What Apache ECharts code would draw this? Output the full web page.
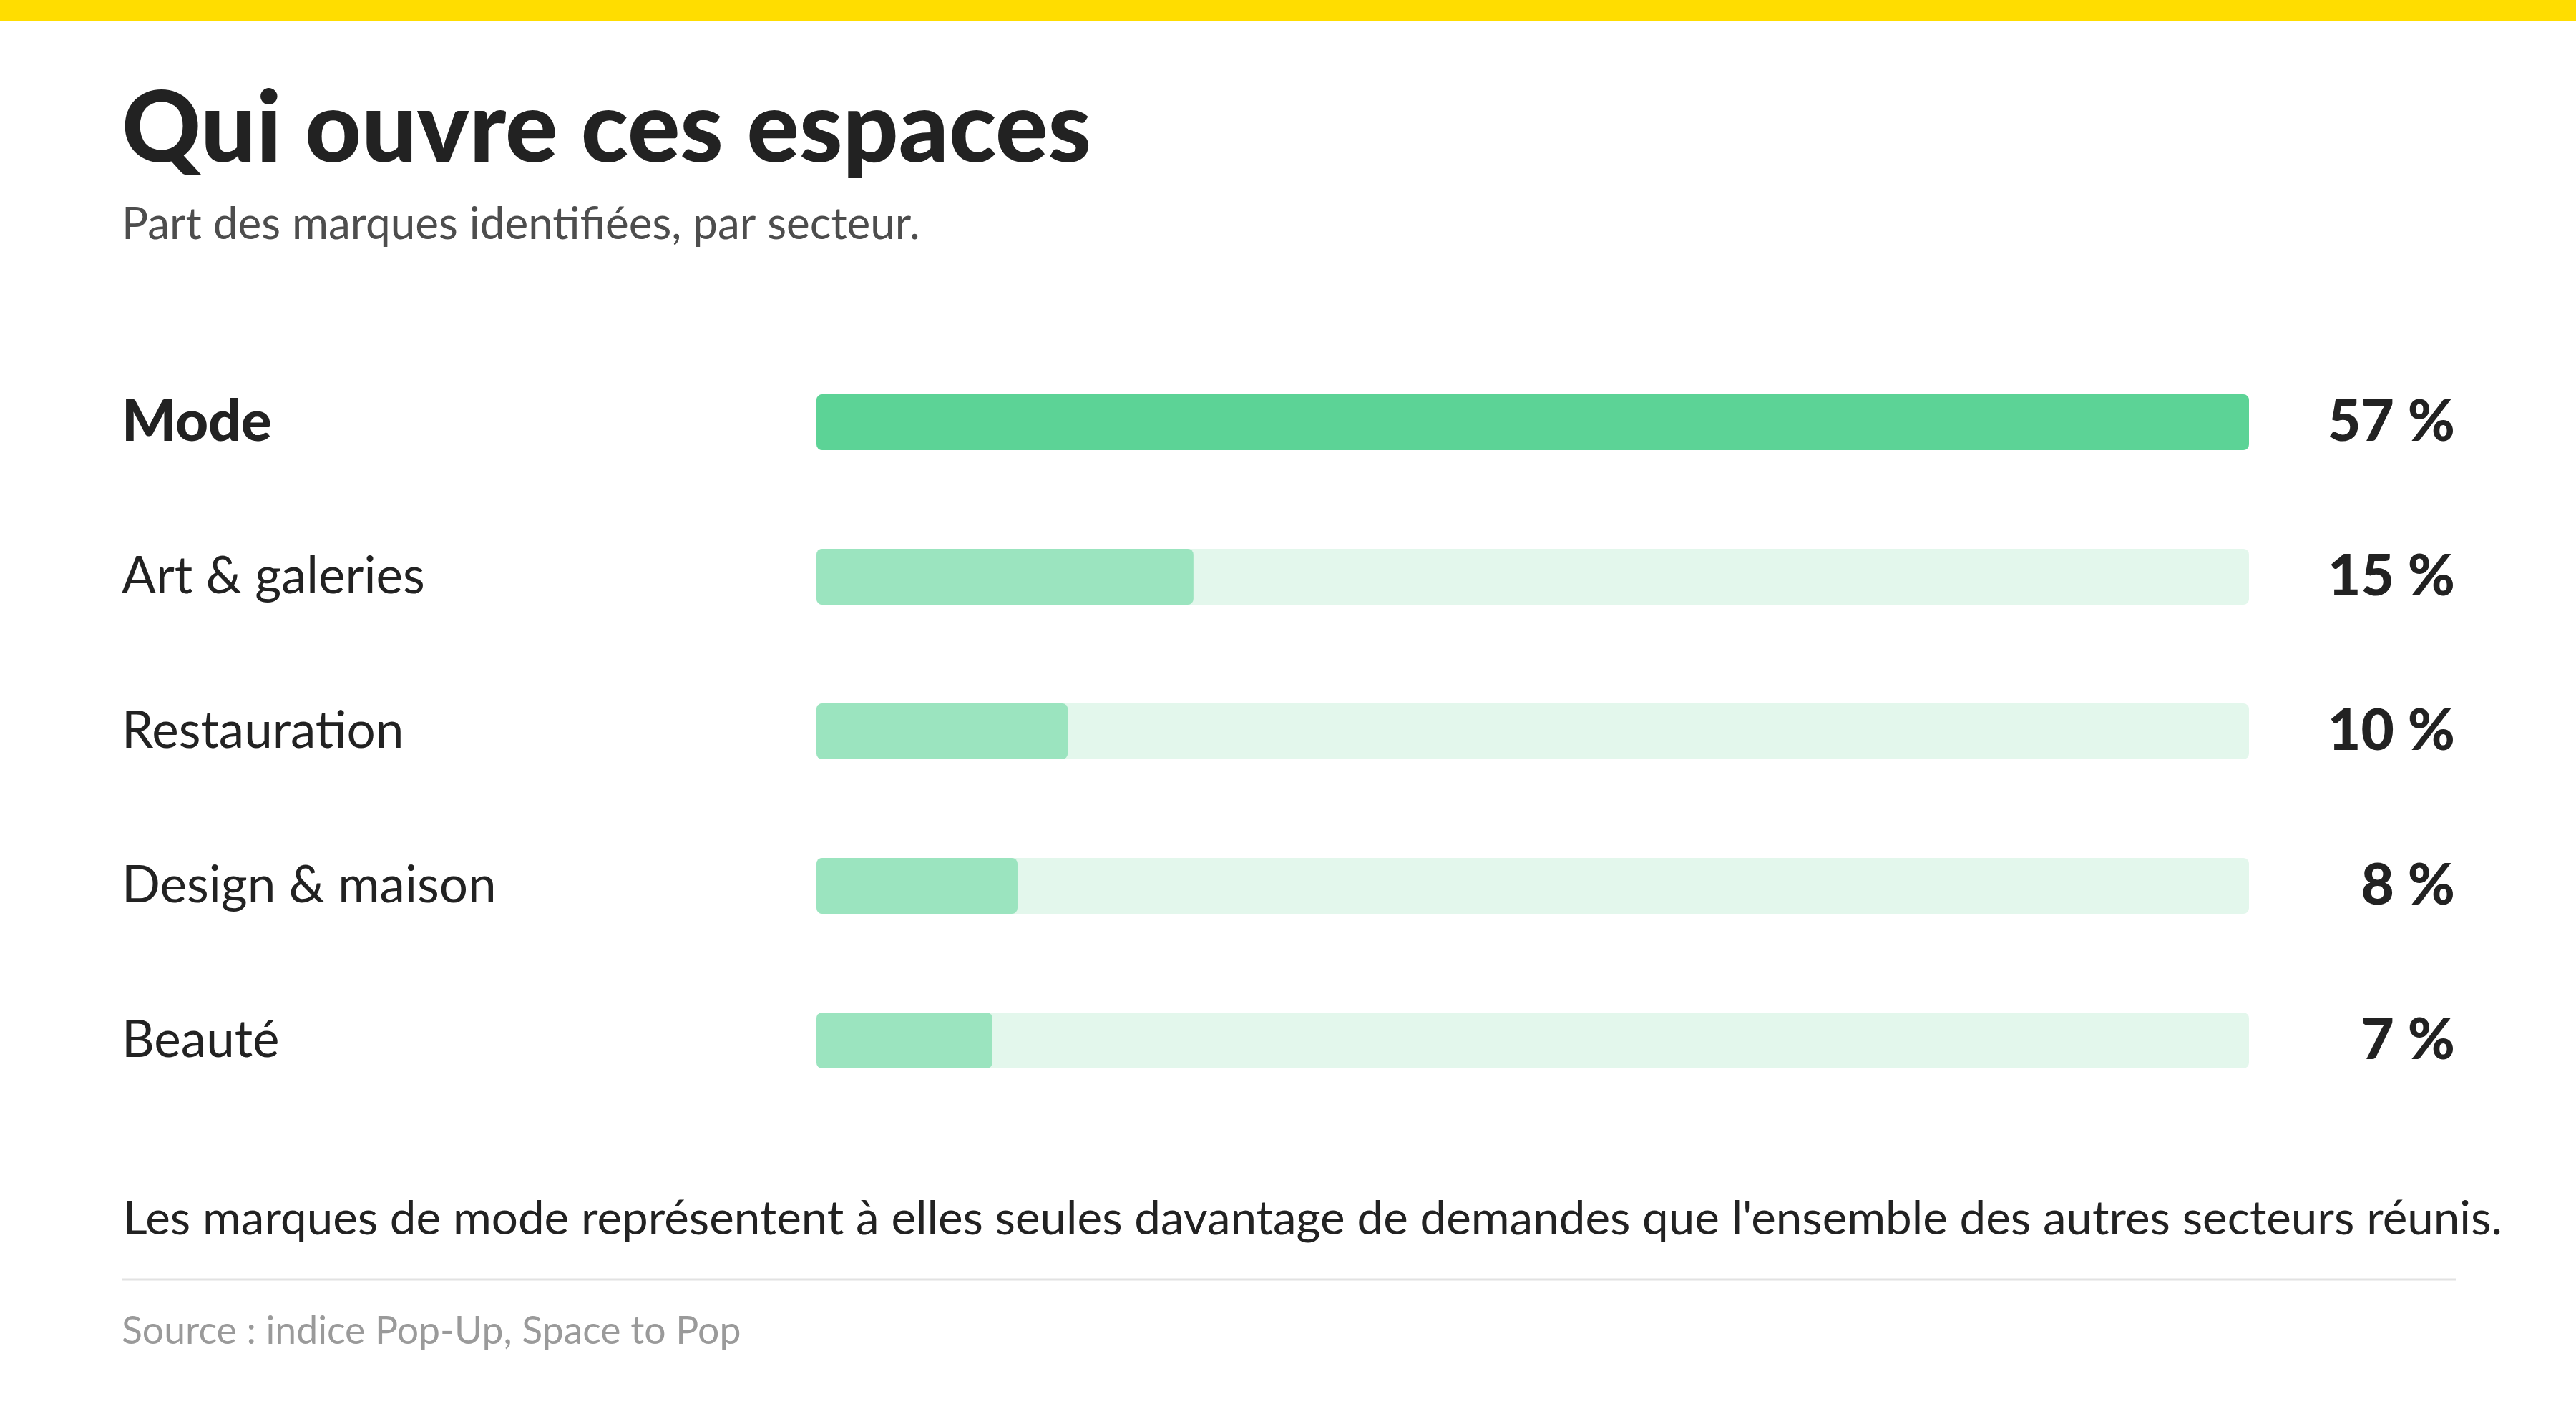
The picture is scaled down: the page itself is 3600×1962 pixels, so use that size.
<!DOCTYPE html>
<html>
<head>
<meta charset="utf-8">
<script src="https://cdn.jsdelivr.net/npm/echarts@6/dist/echarts.min.js"></script>
<style>
  html, body { margin: 0; padding: 0; background: #fff; }
  #chart { width: 3600px; height: 1962px; }
</style>
</head>
<body>
<div id="chart"></div>
<script>
var sectors = ['Mode', 'Art & galeries', 'Restauration', 'Design & maison', 'Beauté'];
var shares = [57, 15, 10, 8, 7];

var titleText = 'Qui ouvre ces espaces';
var subtitleText = 'Part des marques identifiées, par secteur.';
var noteText = "Les marques de mode représentent à elles seules davantage de demandes que l'ensemble des autres secteurs réunis.";
var sourceText = 'Source : indice Pop-Up, Space to Pop';

var FONT = 'Lato, "Noto Sans", sans-serif';
var maxShare = Math.max.apply(null, shares);
var topIndex = shares.indexOf(maxShare);
var trackData = shares.map(function () { return maxShare; });

var chart = echarts.init(document.getElementById('chart'));
var option = {
  backgroundColor: '#ffffff',
  animation: false,
  grid: { left: 1141, right: 457, top: 482, bottom: 400 },
  xAxis: {
    type: 'value',
    min: 0,
    max: maxShare,
    show: false
  },
  yAxis: {
    type: 'category',
    inverse: true,
    data: sectors,
    axisLine: { show: false },
    axisTick: { show: false },
    splitLine: { show: false },
    axisLabel: {
      align: 'left',
      margin: 971,
      fontFamily: FONT,
      fontSize: 71,
      color: '#222222',
      formatter: function (v, i) {
        return i === topIndex ? '{b|' + v + '}' : v;
      },
      rich: {
        b: { fontFamily: FONT, fontSize: 80, fontWeight: 900, color: '#222222' }
      }
    }
  },
  series: [
    {
      name: 'track',
      type: 'bar',
      data: trackData,
      barWidth: 78,
      barGap: '-100%',
      silent: true,
      z: 1,
      itemStyle: { color: '#e3f7ec', borderRadius: 8 },
      label: {
        show: true,
        position: 'right',
        distance: 288,
        align: 'right',
        fontFamily: FONT,
        fontSize: 80,
        fontWeight: 900,
        color: '#222222',
        formatter: function (p) { return shares[p.dataIndex] + ' %'; }
      }
    },
    {
      name: 'share',
      type: 'bar',
      data: shares.map(function (v, i) {
        return { value: v, itemStyle: { color: i === topIndex ? '#5cd396' : '#9be4bf' } };
      }),
      barWidth: 78,
      z: 2,
      itemStyle: { borderRadius: 8 }
    }
  ],
  graphic: [
    { type: 'rect', left: 0, top: 0, shape: { width: 3600, height: 30 }, style: { fill: '#ffdd00' } },
    { type: 'text', x: 170, y: 229 - 47, style: { text: titleText, font: '900 137px ' + FONT, fill: '#222222', verticalAlign: 'middle' } },
    { type: 'text', x: 170, y: 336 - 22, style: { text: subtitleText, font: '400 62px ' + FONT, fill: '#4d4d4d', verticalAlign: 'middle' } },
    { type: 'text', x: 172, y: 1728 - 24, style: { text: noteText, font: '400 65.5px ' + FONT, fill: '#222222', verticalAlign: 'middle' } },
    { type: 'line', shape: { x1: 170, y1: 1788, x2: 3432, y2: 1788 }, style: { stroke: '#e2e2e2', lineWidth: 3 } },
    { type: 'text', x: 170, y: 1880 - 19, style: { text: sourceText, font: '400 53.5px ' + FONT, fill: '#9a9a9a', verticalAlign: 'middle' } }
  ]
};
chart.setOption(option);
window.addEventListener('resize', function () {
  chart.resize();
});
</script>
</body>
</html>
